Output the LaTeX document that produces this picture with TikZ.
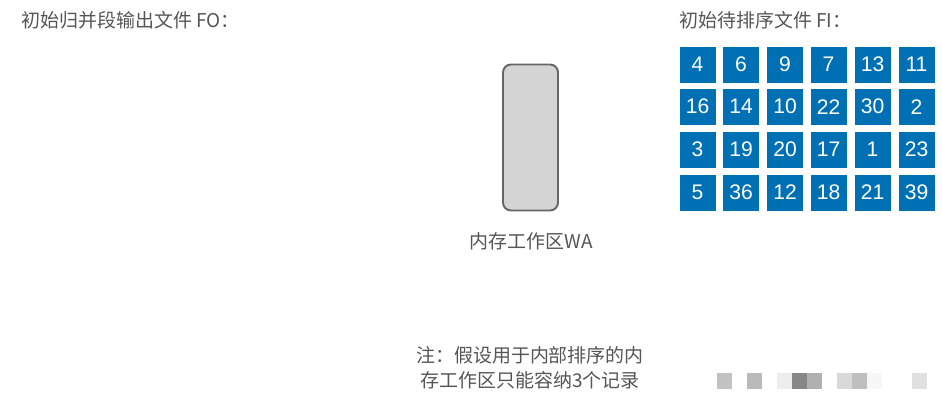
\documentclass[tikz,border=0pt]{standalone}
\usepackage{fontspec}
\setmainfont{Liberation Sans}
\newfontfamily\cjk{Noto Sans CJK SC}
\usepackage{tikz}
\usepackage{xcolor}
\usetikzlibrary{shapes, positioning}

\definecolor{cellblue}{RGB}{0,112,181}
\definecolor{txtgray}{RGB}{85,85,85}
\definecolor{wagray}{RGB}{212,212,212}
\definecolor{waedge}{RGB}{102,102,102}

\tikzset{
    rec/.style={rectangle, fill=cellblue, draw=white, line width=0.4pt, minimum size=0.74cm, inner sep=0pt, text=white, font=\fontsize{12}{13}\selectfont},
    lbl/.style={text=txtgray, inner sep=0pt, font=\cjk\fontsize{10.8}{13}\selectfont}
}

\begin{document}
\begin{tikzpicture}[x=0.02cm, y=-0.02cm]
        \useasboundingbox (0, 0) rectangle (942, 406);

        \node[lbl, anchor=west] at (21, 20) (fo) {初始归并段输出文件 FO：};
        \node[lbl, anchor=west] at (679, 20) (fi) {初始待排序文件 FI：};

        \node[rectangle, rounded corners=4.5pt, draw=waedge, fill=wagray, line width=1.1pt, minimum width=1.1cm, minimum height=2.92cm] at (530.5, 137.5) (wa) {};
        \node[lbl] at (531, 241) (walbl) {内存工作区WA};

        \node[rec] at (697.5, 64.7) (r11) {4};
        \node[rec] at (741, 64.7) (r12) {6};
        \node[rec] at (785, 64.7) (r13) {9};
        \node[rec] at (828.5, 64.7) (r14) {7};
        \node[rec] at (872.5, 64.7) (r15) {13};
        \node[rec] at (916.5, 64.7) (r16) {11};
        \node[rec] at (697.5, 106.7) (r21) {16};
        \node[rec] at (741, 106.7) (r22) {14};
        \node[rec] at (785, 106.7) (r23) {10};
        \node[rec] at (828.5, 106.7) (r24) {22};
        \node[rec] at (872.5, 106.7) (r25) {30};
        \node[rec] at (916.5, 106.7) (r26) {2};
        \node[rec] at (697.5, 149.5) (r31) {3};
        \node[rec] at (741, 149.5) (r32) {19};
        \node[rec] at (785, 149.5) (r33) {20};
        \node[rec] at (828.5, 149.5) (r34) {17};
        \node[rec] at (872.5, 149.5) (r35) {1};
        \node[rec] at (916.5, 149.5) (r36) {23};
        \node[rec] at (697.5, 192.5) (r41) {5};
        \node[rec] at (741, 192.5) (r42) {36};
        \node[rec] at (785, 192.5) (r43) {12};
        \node[rec] at (828.5, 192.5) (r44) {18};
        \node[rec] at (872.5, 192.5) (r45) {21};
        \node[rec] at (916.5, 192.5) (r46) {39};

        \node[lbl] at (530, 355) (note1) {注：假设用于内部排序的内};
        \node[lbl] at (530, 380) (note2) {存工作区只能容纳3个记录};

        % blurred marks, bottom right
        \fill[black!24] (717, 373) rectangle (732, 389);
        \fill[black!27] (747, 373) rectangle (762, 389);
        \fill[black!7] (777, 373) rectangle (792, 389);
        \fill[black!47] (792, 373) rectangle (807, 389);
        \fill[black!31] (807, 373) rectangle (822, 389);
        \fill[black!15] (837, 373) rectangle (852, 389);
        \fill[black!25] (852, 373) rectangle (867, 389);
        \fill[black!3] (867, 373) rectangle (882, 389);
        \fill[black!12] (912, 373) rectangle (927, 389);
    \end{tikzpicture}
\end{document}
